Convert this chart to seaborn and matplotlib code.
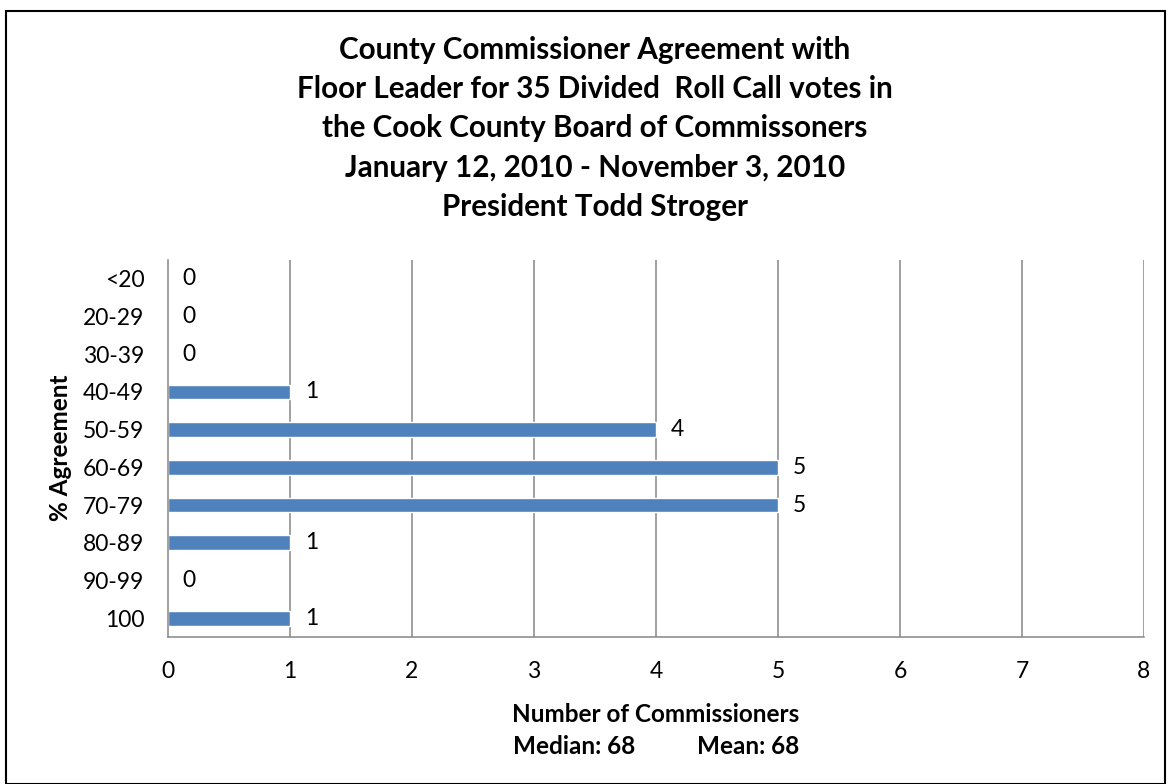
import matplotlib
matplotlib.use("Agg")
import matplotlib.pyplot as plt
import matplotlib.patches as patches
import pandas as pd
import seaborn as sns

## Data
Categories = ['<20', '20-29', '30-39', '40-49', '50-59', '60-69', '70-79', '80-89', '90-99', '100']
Counts = [0, 0, 0, 1, 4, 5, 5, 1, 0, 1]
XTicks = [0, 1, 2, 3, 4, 5, 6, 7, 8]
TitleLines = ['County Commissioner Agreement with',
              'Floor Leader for 35 Divided  Roll Call votes in',
              'the Cook County Board of Commissoners',
              'January 12, 2010 - November 3, 2010',
              'President Todd Stroger']
XLabel = 'Number of Commissioners'
YLabel = '% Agreement'
MedianText = 'Median: 68'
MeanText = 'Mean: 68'

sns.set_style('white')
plt.rcParams['font.family'] = ['Lato', 'DejaVu Sans']
plt.rcParams['text.color'] = 'black'

DF = pd.DataFrame({'Range': Categories, 'N': Counts})
BarColor = '#4F81BD'
GridColor = '#868686'
TickSize = 16.5

fig = plt.figure(figsize=(11.68, 7.84), dpi=100)
W, H = 1168, 784
ax = fig.add_axes([168/W, 1-637/H, (1144-168)/W, (637-260)/H])

sns.barplot(data=DF, y='Range', x='N', order=Categories, orient='h',
            color=BarColor, saturation=1, width=0.39, ax=ax)

ax.set_xlim(0, 8)
ax.set_ylim(len(Categories)-0.5, -0.5)
ax.set_xticks(XTicks)
ax.set_xticklabels([str(z) for z in XTicks])
ax.tick_params(axis='x', length=7, width=1, color=GridColor, labelcolor='black',
               pad=10, labelsize=TickSize)
ax.tick_params(axis='y', which='major', length=0, pad=17, labelcolor='black', labelsize=TickSize)
ax.set_yticks([z+0.5 for z in range(-1, len(Categories))], minor=True)
ax.tick_params(axis='y', which='minor', length=9, width=1, color=GridColor)

for z in XTicks[1:]:
    ax.axvline(z, color=GridColor, lw=1.1, zorder=0)
for side in ['top', 'right']:
    ax.spines[side].set_visible(False)
for side in ['left', 'bottom']:
    ax.spines[side].set_color(GridColor)
    ax.spines[side].set_linewidth(1.1)

for i, v in enumerate(Counts):
    ax.text(v + 0.12, i, str(v), va='center', ha='left', fontsize=TickSize, color='black')

ax.set_xlabel('')
ax.set_ylabel('')
fig.text(60/W, 1-448/H, YLabel, rotation=90, ha='center', va='center',
         fontsize=17.5, fontweight='bold')
fig.text(656/W, 1-714/H, XLabel, ha='center', va='center', fontsize=17.5, fontweight='bold')
fig.text(574/W, 1-746/H, MedianText, ha='center', va='center', fontsize=17.5, fontweight='bold')
fig.text(748/W, 1-746/H, MeanText, ha='center', va='center', fontsize=17.5, fontweight='bold')

for k, line in enumerate(TitleLines):
    fig.text(595/W, 1-(50+39.2*k)/H, line, ha='center', va='center',
             fontsize=21.3, fontweight='bold')

fig.patches.append(patches.Rectangle((6/W, 0), (1165-6)/W, 1-11/H, transform=fig.transFigure,
                                     fill=False, edgecolor='black', lw=1.5))

plt.savefig('out.png', dpi=100, facecolor='white')
